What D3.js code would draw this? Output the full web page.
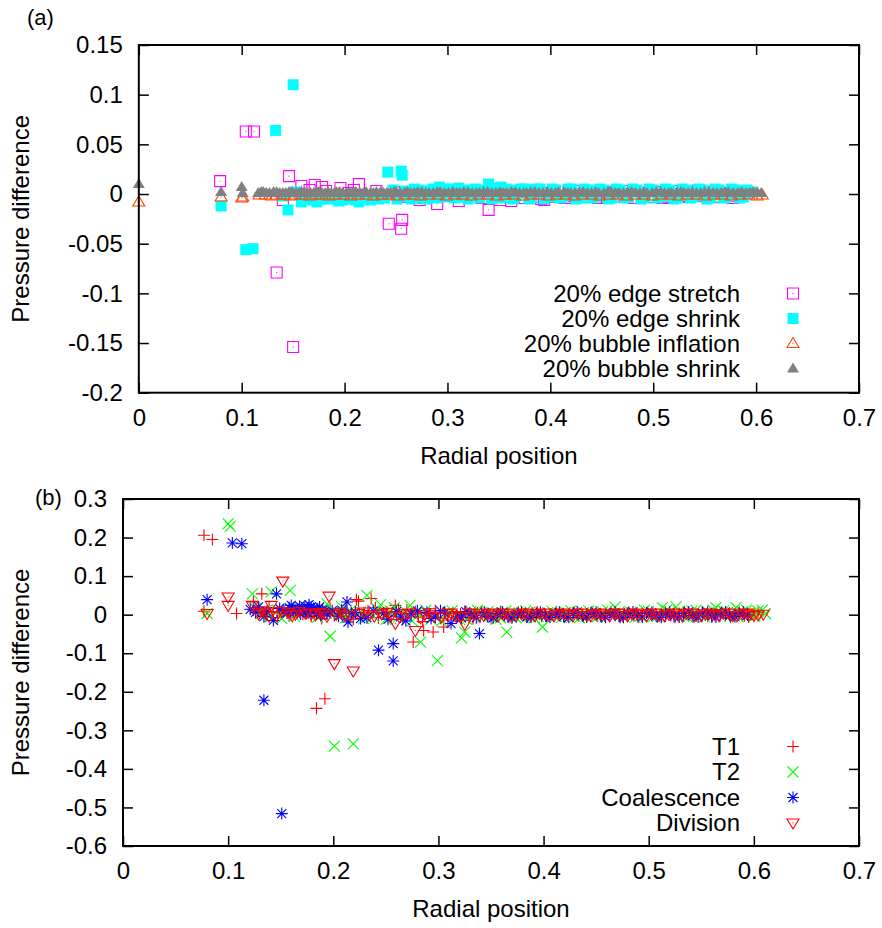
<!DOCTYPE html>
<html>
<head>
<meta charset="utf-8">
<script src="https://cdn.jsdelivr.net/npm/d3@7"></script>
<style>
  body { margin: 0; background: #fff; }
  text { font-family: "Liberation Sans", Arial, Helvetica, sans-serif; }
</style>
</head>
<body>
<svg id="chart" width="882" height="928"></svg>
<script>
// tick values
const xTicks = [0, 0.1, 0.2, 0.3, 0.4, 0.5, 0.6, 0.7];
const yTicksA = [-0.2, -0.15, -0.1, -0.05, 0, 0.05, 0.1, 0.15];
const yTicksB = [-0.6, -0.5, -0.4, -0.3, -0.2, -0.1, 0, 0.1, 0.2, 0.3];

// panel (a): [radial position, pressure difference]
const edgeStretch = [
  [0.079,0.013],[0.104,0.063],[0.112,0.063],[0.134,-0.079],[0.140,-0.006],[0.146,0.018],[0.150,-0.154],
  [0.158,0.008],[0.163,-0.003],[0.171,0.009],[0.178,0.007],[0.185,-0.002],[0.196,0.006],[0.204,0.001],
  [0.214,0.010],[0.222,-0.002],[0.231,0.003],[0.243,-0.030],[0.248,0.002],[0.255,-0.035],[0.256,-0.026],
  [0.262,-0.003],[0.269,0.003],[0.277,-0.004],[0.283,0.002],[0.290,-0.010],[0.297,-0.002],[0.305,0.003],
  [0.311,-0.007],[0.318,-0.002],[0.326,0.002],[0.333,-0.004],[0.340,-0.016],[0.347,0.001],[0.355,-0.003],
  [0.362,-0.007],[0.368,0.002],[0.375,-0.004],[0.383,-0.003],[0.391,-0.005],[0.398,0.001],[0.405,-0.003],
  [0.414,-0.004],[0.422,-0.002],[0.431,-0.003],[0.438,0.001],[0.446,-0.004],[0.455,-0.003],[0.463,0.002],
  [0.472,-0.003],[0.481,-0.004],[0.489,0.001],[0.497,-0.003],[0.505,0.002],[0.514,-0.003],[0.523,0.003],
  [0.531,-0.002],[0.540,0.002],[0.548,-0.002],[0.556,0.002],[0.565,-0.003],[0.573,0.001],[0.581,-0.002],[0.589,0.001],
  [0.166,0.004],[0.182,0.003],[0.191,-0.004],[0.209,0.004],[0.236,-0.003],[0.273,-0.006],[0.301,0.004],
  [0.336,0.003],[0.351,-0.006],[0.379,0.003],[0.394,-0.006],[0.427,0.003],[0.451,0.002],[0.476,0.003],
  [0.509,-0.004],[0.527,-0.003],[0.544,0.004],[0.561,0.003],[0.577,-0.004]
];
const edgeShrink = [
  [0.080,-0.012],[0.104,-0.056],[0.111,-0.055],[0.133,0.064],[0.145,-0.016],[0.150,0.110],[0.140,-0.002],
  [0.152,0.002],[0.158,-0.008],[0.165,-0.004],[0.173,-0.008],[0.180,-0.003],[0.188,-0.002],[0.194,-0.007],
  [0.201,-0.003],[0.208,-0.004],[0.214,-0.008],[0.221,-0.003],[0.229,-0.002],[0.236,-0.003],[0.242,0.022],
  [0.247,0.004],[0.255,0.023],[0.256,0.019],[0.262,-0.003],[0.268,0.005],[0.275,-0.004],[0.282,0.003],
  [0.292,0.007],[0.296,-0.003],[0.303,0.005],[0.311,0.006],[0.316,-0.003],[0.323,0.004],[0.331,-0.004],
  [0.340,0.010],[0.346,0.005],[0.352,0.007],[0.353,-0.004],[0.360,0.004],[0.367,-0.002],[0.375,0.005],
  [0.382,-0.004],[0.390,0.005],[0.398,-0.003],[0.405,0.004],[0.413,-0.003],[0.421,0.005],[0.429,-0.004],
  [0.437,0.004],[0.444,-0.003],[0.452,0.004],[0.460,-0.004],[0.468,0.004],[0.476,-0.003],[0.484,0.004],
  [0.492,-0.004],[0.500,0.004],[0.508,-0.003],[0.516,0.004],[0.524,-0.004],[0.532,0.004],[0.540,-0.003],
  [0.548,0.004],[0.556,-0.004],[0.564,0.004],[0.572,-0.003],[0.580,0.004],[0.588,-0.003],[0.595,0.002],
  [0.161,-0.005],[0.169,-0.006],[0.177,-0.005],[0.184,-0.005],[0.191,-0.004],[0.198,-0.006],[0.205,-0.005],
  [0.211,-0.006],[0.218,-0.004],[0.225,-0.006],[0.233,-0.005],[0.239,-0.004],[0.251,-0.005],[0.259,0.003],
  [0.265,-0.005],[0.272,0.004],[0.279,-0.005],[0.286,0.005],[0.289,-0.004],[0.299,0.005],[0.307,-0.004],
  [0.314,0.004],[0.320,-0.005],[0.327,0.005],[0.335,0.004],[0.343,-0.005],[0.349,0.006],[0.357,0.005],
  [0.364,-0.005],[0.371,0.005],[0.379,-0.005],[0.386,0.005],[0.394,-0.005],[0.402,0.005],[0.409,-0.004],
  [0.417,0.005],[0.425,-0.005],[0.433,0.005],[0.440,-0.004],[0.448,0.005],[0.456,-0.005],[0.464,0.005],
  [0.472,-0.004],[0.480,0.005],[0.488,-0.005],[0.496,0.005],[0.504,-0.004],[0.512,0.005],[0.520,-0.005],
  [0.528,0.005],[0.536,-0.004],[0.544,0.005],[0.552,-0.005],[0.560,0.005],[0.568,-0.004],[0.576,0.005],
  [0.584,-0.004],[0.591,0.004]
];
const bubbleInflation = [
  [0,-0.008],[0.080,-0.003],[0.100,-0.004],[0.101,-0.003],
  [0.117,-0.001],[0.123,-0.001],[0.129,-0.002],[0.134,-0.001],[0.141,-0.001],[0.147,-0.002],[0.152,-0.001],
  [0.159,-0.001],[0.166,-0.002],[0.172,-0.001],[0.178,-0.001],[0.185,-0.002],[0.191,-0.001],[0.199,-0.001],
  [0.206,-0.002],[0.213,-0.001],[0.221,-0.001],[0.228,-0.002],[0.236,-0.001],[0.243,-0.001],[0.251,-0.002],
  [0.259,-0.001],[0.267,-0.001],[0.274,-0.002],[0.282,-0.001],[0.291,-0.001],[0.299,-0.002],[0.307,-0.001],
  [0.315,-0.001],[0.323,-0.002],[0.331,-0.001],[0.339,-0.001],[0.348,-0.002],[0.356,-0.001],[0.364,-0.001],
  [0.373,-0.002],[0.381,-0.001],[0.389,-0.001],[0.398,-0.002],[0.406,-0.001],[0.415,-0.001],[0.423,-0.002],
  [0.431,-0.001],[0.440,-0.001],[0.448,-0.002],[0.457,-0.001],[0.465,-0.001],[0.474,-0.002],[0.482,-0.001],
  [0.491,-0.001],[0.499,-0.002],[0.508,-0.001],[0.516,-0.001],[0.525,-0.002],[0.533,-0.001],[0.542,-0.001],
  [0.550,-0.002],[0.559,-0.001],[0.567,-0.001],[0.576,-0.002],[0.584,-0.001],[0.593,-0.001],[0.601,-0.002],[0.606,-0.001]
];
const bubbleShrink = [
  [0,0.010],[0.080,0.002],[0.100,0.007],[0.101,0.001],
  [0.116,0.001],[0.121,0.002],[0.127,0.001],[0.131,0.002],[0.137,0.001],[0.143,0.001],[0.149,0.002],
  [0.153,0.001],[0.158,0.002],[0.164,0.001],[0.170,0.001],[0.175,0.002],[0.181,0.001],[0.187,0.001],
  [0.192,0.002],[0.198,0.001],[0.205,0.001],[0.211,0.002],[0.218,0.001],[0.225,0.001],[0.231,0.002],
  [0.238,0.001],[0.245,0.001],[0.250,0.002],[0.258,0.001],[0.264,0.001],[0.271,0.002],[0.279,0.001],
  [0.286,0.001],[0.293,0.002],[0.301,0.001],[0.309,0.001],[0.316,0.002],[0.324,0.001],[0.331,0.001],
  [0.339,0.002],[0.347,0.001],[0.354,0.001],[0.362,0.002],[0.370,0.001],[0.377,0.001],[0.385,0.002],
  [0.393,0.001],[0.401,0.001],[0.408,0.002],[0.417,0.001],[0.424,0.001],[0.432,0.002],[0.440,0.001],
  [0.447,0.001],[0.456,0.002],[0.463,0.001],[0.471,0.001],[0.479,0.002],[0.487,0.001],[0.494,0.001],
  [0.503,0.002],[0.511,0.001],[0.518,0.001],[0.527,0.002],[0.534,0.001],[0.542,0.001],[0.550,0.002],
  [0.558,0.001],[0.566,0.001],[0.573,0.002],[0.582,0.001],[0.590,0.001],[0.597,0.002],[0.605,0.001],
  [0.119,0.002],[0.124,0.001],[0.134,0.002],[0.140,0.001],[0.146,0.002],[0.156,0.001],[0.161,0.002],
  [0.167,0.001],[0.173,0.002],[0.178,0.001],[0.184,0.002],[0.190,0.001],[0.195,0.002],[0.202,0.001],
  [0.208,0.002],[0.215,0.001],[0.221,0.002],[0.228,0.001],[0.235,0.002],[0.241,0.001],[0.248,0.002],
  [0.254,0.001],[0.261,0.002],[0.268,0.001],[0.275,0.002],[0.282,0.001],[0.290,0.002],[0.297,0.001],
  [0.305,0.002],[0.312,0.001],[0.320,0.002],[0.328,0.001],[0.335,0.002],[0.343,0.001],[0.351,0.002],
  [0.358,0.001],[0.366,0.002],[0.374,0.001],[0.381,0.002],[0.389,0.001],[0.397,0.002],[0.405,0.001],
  [0.413,0.002],[0.420,0.001],[0.428,0.002],[0.436,0.001],[0.444,0.002],[0.452,0.001],[0.459,0.002],
  [0.467,0.001],[0.475,0.002],[0.483,0.001],[0.491,0.002],[0.499,0.001],[0.507,0.002],[0.515,0.001],
  [0.523,0.002],[0.530,0.001],[0.538,0.002],[0.546,0.001],[0.554,0.002],[0.562,0.001],[0.570,0.002],
  [0.578,0.001],[0.586,0.002],[0.594,0.001],[0.601,0.002]
];

// panel (b)
const t1 = [
  [0.077,0.206],[0.085,0.195],[0.077,0.009],[0.108,0.003],[0.124,0.033],[0.132,0.054],[0.184,-0.243],
  [0.192,-0.218],[0.222,0.039],[0.224,0.035],[0.236,0.042],[0.259,0.024],[0.276,-0.071],[0.286,-0.041],
  [0.295,-0.045],[0.305,-0.032],[0.314,0.004],
  [0.128,0.004],[0.136,-0.004],[0.143,0.008],[0.151,0.002],[0.158,-0.003],[0.166,0.006],[0.171,0.001],
  [0.179,-0.005],[0.186,0.004],[0.193,0.009],[0.201,-0.002],[0.208,0.003],[0.215,-0.006],[0.229,0.005],
  [0.243,-0.008],[0.251,0.006],[0.266,-0.012],[0.270,0.012],[0.281,-0.006],[0.291,0.003],[0.302,-0.009],
  [0.321,0.002],[0.329,-0.006],[0.337,0.004],[0.346,-0.003],[0.355,0.002],[0.363,-0.005],[0.372,0.003],
  [0.381,-0.002],[0.389,0.004],[0.398,-0.004],[0.407,0.002],[0.416,-0.003],[0.425,0.003],[0.433,-0.002],
  [0.442,0.002],[0.451,-0.004],[0.459,0.003],[0.468,-0.002],[0.477,0.002],[0.486,-0.003],[0.494,0.003],
  [0.503,-0.002],[0.512,0.002],[0.521,-0.003],[0.529,0.003],[0.538,-0.002],[0.547,0.002],[0.556,-0.003],
  [0.564,0.004],[0.573,-0.002],[0.582,0.002],[0.591,-0.003],[0.600,0.002],
  [0.124,0.012],[0.139,0.018],[0.147,-0.008],[0.161,0.014],[0.175,0.010],[0.189,-0.010],[0.197,0.016],
  [0.212,0.012],[0.219,-0.012],[0.233,0.010],[0.240,0.018],[0.255,-0.004],[0.262,0.014],[0.278,0.008],
  [0.285,-0.018],[0.297,0.010],[0.309,-0.014],[0.317,-0.008],[0.325,0.008],[0.333,-0.010],[0.341,0.006],
  [0.350,-0.008],[0.359,0.007],[0.367,-0.007],[0.376,0.006],[0.385,-0.006],[0.394,0.007],[0.403,-0.006],
  [0.412,0.006],[0.420,-0.007],[0.429,0.006],[0.438,-0.006],[0.446,0.007],[0.455,-0.006],[0.464,0.006],
  [0.473,-0.007],[0.481,0.006],[0.490,-0.006],[0.499,0.007],[0.508,-0.006],[0.516,0.006],[0.525,-0.007],
  [0.534,0.006],[0.543,-0.006],[0.551,0.007],[0.560,-0.006],[0.569,0.006],[0.578,-0.007],[0.586,0.006],
  [0.595,-0.006],[0.604,0.005]
];
const t2 = [
  [0.080,0.003],[0.100,0.236],[0.102,0.229],[0.123,0.054],[0.141,0.059],[0.159,0.063],[0.194,0.028],
  [0.197,-0.056],[0.201,-0.341],[0.219,-0.335],[0.232,0.050],[0.245,0.026],[0.273,0.024],[0.283,-0.071],
  [0.299,-0.119],[0.322,-0.060],[0.325,-0.045],[0.365,-0.045],[0.399,-0.032],[0.468,0.020],[0.513,0.018],
  [0.526,0.020],[0.564,0.018],[0.583,0.018],
  [0.131,0.002],[0.139,-0.006],[0.147,0.012],[0.155,0.003],[0.163,-0.004],[0.170,0.010],[0.178,0.002],
  [0.185,-0.007],[0.191,0.014],[0.205,0.004],[0.212,-0.008],[0.226,0.007],[0.238,-0.004],[0.254,0.010],
  [0.262,-0.006],[0.279,0.005],[0.293,-0.012],[0.309,0.006],[0.318,-0.004],[0.331,0.008],[0.342,-0.006],
  [0.351,0.005],[0.359,-0.008],[0.370,0.006],[0.378,-0.004],[0.387,0.007],[0.395,-0.005],[0.404,0.005],
  [0.412,-0.004],[0.421,0.006],[0.430,-0.005],[0.438,0.005],[0.447,-0.003],[0.456,0.007],[0.476,-0.004],
  [0.483,0.006],[0.492,-0.003],[0.500,0.008],[0.508,-0.004],[0.520,0.006],[0.533,-0.003],[0.541,0.009],
  [0.549,-0.002],[0.557,0.006],[0.571,0.010],[0.577,-0.003],[0.589,0.008],[0.596,0.004],[0.604,0.010],[0.611,0.003],
  [0.126,0.016],[0.135,0.010],[0.151,-0.010],[0.167,0.018],[0.181,0.012],[0.199,0.006],[0.208,0.020],
  [0.216,0.010],[0.229,-0.010],[0.242,0.014],[0.250,-0.012],[0.258,0.018],[0.268,0.010],[0.275,-0.016],
  [0.288,0.012],[0.303,-0.016],[0.313,0.010],[0.327,-0.012],[0.337,0.012],[0.347,0.008],[0.355,-0.012],
  [0.364,0.010],[0.374,-0.008],[0.383,0.010],[0.391,-0.008],[0.408,0.009],[0.417,-0.007],[0.426,0.010],
  [0.434,-0.008],[0.443,0.010],[0.451,-0.006],[0.461,0.012],[0.472,0.008],[0.487,-0.007],[0.496,0.012],
  [0.504,-0.006],[0.517,0.012],[0.529,0.010],[0.537,-0.007],[0.545,0.012],[0.553,-0.006],[0.561,0.012],
  [0.575,0.006],[0.585,-0.006],[0.593,0.012],[0.601,-0.004],[0.608,0.012]
];
const coalescence = [
  [0.080,0.039],[0.104,0.186],[0.113,0.184],[0.134,-0.222],[0.143,-0.015],[0.146,0.054],[0.151,-0.516],
  [0.173,0.022],[0.213,0.033],[0.214,-0.019],[0.243,-0.092],[0.257,-0.120],[0.257,-0.075],[0.312,-0.023],
  [0.339,-0.049],
  [0.126,0.006],[0.134,-0.005],[0.153,0.010],[0.158,0.018],[0.162,0.006],[0.166,0.015],[0.169,0.002],
  [0.172,0.012],[0.176,0.004],[0.179,0.020],[0.182,0.008],[0.185,0.014],[0.188,-0.002],[0.191,0.006],
  [0.199,0.010],[0.205,-0.004],[0.221,0.006],[0.232,-0.008],[0.248,0.004],[0.264,-0.006],[0.274,0.002],
  [0.289,0.006],[0.297,-0.006],[0.306,0.004],[0.322,-0.008],[0.331,0.002],[0.347,-0.005],[0.356,0.003],
  [0.366,-0.004],[0.375,0.002],[0.384,-0.006],[0.393,0.003],[0.402,-0.003],[0.411,0.002],[0.419,-0.005],
  [0.428,0.003],[0.437,-0.002],[0.445,0.004],[0.454,-0.003],[0.463,0.002],[0.472,-0.004],[0.480,0.003],
  [0.489,-0.002],[0.498,0.004],[0.507,-0.003],[0.516,0.002],[0.524,-0.004],[0.533,0.003],[0.542,-0.002],
  [0.551,0.004],[0.560,-0.003],[0.568,0.002],[0.577,-0.002],[0.586,0.003],[0.594,-0.001],
  [0.121,0.014],[0.129,0.020],[0.137,0.008],[0.149,0.016],[0.156,0.004],[0.160,0.024],[0.164,0.010],
  [0.168,0.022],[0.171,0.016],[0.174,0.008],[0.177,0.026],[0.181,0.016],[0.184,0.004],[0.187,0.020],
  [0.190,0.012],[0.194,0.002],[0.208,0.012],[0.217,0.004],[0.226,-0.010],[0.238,0.010],[0.252,-0.012],
  [0.260,0.008],[0.269,-0.016],[0.280,0.010],[0.293,-0.010],[0.302,0.010],[0.318,-0.004],[0.326,0.008],
  [0.336,-0.008],[0.344,0.006],[0.352,-0.008],[0.361,0.006],[0.370,-0.008],[0.379,0.006],[0.388,-0.007],
  [0.397,0.006],[0.406,-0.007],[0.415,0.006],[0.424,-0.007],[0.432,0.007],[0.441,-0.006],[0.450,0.006],
  [0.459,-0.007],[0.468,0.006],[0.476,-0.007],[0.485,0.007],[0.494,-0.006],[0.503,0.006],[0.512,-0.007],
  [0.520,0.006],[0.529,-0.006],[0.538,0.007],[0.547,-0.006],[0.556,0.006],[0.564,-0.006],[0.573,0.007],
  [0.582,-0.005],[0.590,0.006]
];
const division = [
  [0.080,0.003],[0.100,0.046],[0.100,0.024],[0.123,0.024],[0.141,0.024],[0.152,0.087],[0.196,0.048],
  [0.201,-0.127],[0.219,-0.146],[0.259,-0.023],[0.278,-0.041],[0.325,-0.025],
  [0.129,0.002],[0.135,0.005],[0.146,-0.002],[0.157,0.006],[0.164,0.001],[0.174,0.004],[0.183,-0.001],
  [0.190,0.003],[0.203,0.001],[0.211,-0.002],[0.224,0.003],[0.234,0.000],[0.246,0.002],[0.255,-0.003],
  [0.268,0.002],[0.287,0.001],[0.296,-0.004],[0.308,0.003],[0.316,-0.002],[0.334,0.002],[0.343,-0.002],
  [0.352,0.001],[0.361,0.003],[0.369,-0.002],[0.379,0.002],[0.388,-0.001],[0.396,0.003],[0.405,-0.002],
  [0.414,0.002],[0.423,0.000],[0.432,0.003],[0.441,-0.002],[0.449,0.002],[0.458,-0.001],[0.467,0.003],
  [0.475,-0.002],[0.484,0.002],[0.493,0.000],[0.502,0.003],[0.510,-0.002],[0.519,0.002],[0.528,-0.001],
  [0.536,0.003],[0.545,-0.002],[0.554,0.002],[0.563,0.000],[0.571,0.003],[0.580,-0.002],[0.589,0.002],
  [0.596,0.001],[0.604,-0.001],[0.609,0.001],
  [0.132,0.010],[0.139,-0.004],[0.151,0.008],[0.161,-0.003],[0.168,0.008],[0.179,0.002],[0.187,0.006],
  [0.194,-0.004],[0.207,0.006],[0.216,-0.003],[0.229,0.007],[0.239,-0.004],[0.251,0.006],[0.263,-0.006],
  [0.273,0.004],[0.283,-0.008],[0.292,0.005],[0.303,-0.006],[0.312,0.004],[0.321,-0.005],[0.330,0.004],
  [0.339,-0.003],[0.348,0.004],[0.357,-0.003],[0.365,0.004],[0.374,-0.003],[0.383,0.004],[0.392,-0.003],
  [0.401,0.004],[0.410,-0.003],[0.419,0.004],[0.428,-0.003],[0.436,0.004],[0.445,-0.003],[0.454,0.004],
  [0.463,-0.003],[0.471,0.004],[0.480,-0.003],[0.489,0.004],[0.498,-0.003],[0.506,0.004],[0.515,-0.003],
  [0.524,0.004],[0.532,-0.003],[0.541,0.004],[0.550,-0.003],[0.558,0.004],[0.567,-0.003],[0.576,0.004],
  [0.584,-0.003],[0.593,0.004],[0.600,-0.002]
];

const svg = d3.select("#chart");

// marker shapes, drawn around (0,0)
function markerPath(shape) {
  switch (shape) {
    case "box": return "M-5.5,-5.5H5.5V5.5H-5.5Z";
    case "tri": return "M0,-6L6,4L-6,4Z";
    case "triDown": return "M0,6L6,-4L-6,-4Z";
    case "plus": return "M-6,0H6M0,-6V6";
    case "cross": return "M-5.5,-5.5L5.5,5.5M-5.5,5.5L5.5,-5.5";
    case "star": return "M-6,0H6M0,-6V6M-4.5,-4.5L4.5,4.5M-4.5,4.5L4.5,-4.5";
  }
}

function drawMarker(g, s) {
  var p = g.append("path").attr("d", markerPath(s.shape));
  if (s.filled) {
    p.attr("fill", s.color).attr("stroke", "none");
  } else {
    p.attr("fill", "none").attr("stroke", s.color).attr("stroke-width", 1.1);
  }
  if (s.dot) {
    g.append("rect").attr("x", -0.5).attr("y", -0.5).attr("width", 1).attr("height", 1).attr("fill", s.color);
  }
}

function panel(cfg) {
  var x = d3.scaleLinear().domain([0, 0.7]).range([cfg.left, cfg.right]);
  var y = d3.scaleLinear().domain(cfg.yDomain).range([cfg.bottom, cfg.top]);

  var g = svg.append("g");

  // points, in gnuplot plotting order
  cfg.series.forEach(function(s) {
    g.append("g").selectAll("g")
      .data(s.data)
      .join("g")
      .attr("transform", d => `translate(${x(d[0])},${y(d[1])})`)
      .each(function() { drawMarker(d3.select(this), s); });
  });

  var fmt = d => String(d);

  var axL = g.append("g").attr("transform", `translate(${cfg.left},0)`)
    .call(d3.axisLeft(y).tickValues(cfg.yTicks).tickSize(-10).tickPadding(16).tickFormat(fmt));
  var axR = g.append("g").attr("transform", `translate(${cfg.right},0)`)
    .call(d3.axisRight(y).tickValues(cfg.yTicks).tickSize(-10).tickFormat(""));
  var axB = g.append("g").attr("transform", `translate(0,${cfg.bottom})`)
    .call(d3.axisBottom(x).tickValues(xTicks).tickSize(-10).tickPadding(16).tickFormat(fmt));
  var axT = g.append("g").attr("transform", `translate(0,${cfg.top})`)
    .call(d3.axisTop(x).tickValues(xTicks).tickSize(-10).tickFormat(""));

  [axL, axR, axB, axT].forEach(function(a) {
    a.select(".domain").remove();
    a.selectAll(".tick line").attr("stroke", "#000").attr("stroke-width", 1.5);
    a.selectAll(".tick text").attr("fill", "#000").style("font-size", "24px")
      .style("font-family", '"Liberation Sans", Arial, sans-serif');
  });

  g.append("rect")
    .attr("x", cfg.left).attr("y", cfg.top)
    .attr("width", cfg.right - cfg.left).attr("height", cfg.bottom - cfg.top)
    .attr("fill", "none").attr("stroke", "#000").attr("stroke-width", 2);

  g.append("text")
    .attr("x", (cfg.left + cfg.right) / 2).attr("y", cfg.bottom + 63)
    .attr("text-anchor", "middle").attr("dy", "0.35em")
    .style("font-size", "24px")
    .text("Radial position");

  g.append("text")
    .attr("transform", `translate(21,${(cfg.top + cfg.bottom) / 2}) rotate(-90)`)
    .attr("text-anchor", "middle").attr("dy", "0.35em")
    .style("font-size", "24px")
    .text("Pressure difference");

  g.append("text")
    .attr("x", cfg.tag[0]).attr("y", cfg.tag[1]).attr("dy", "0.35em")
    .style("font-size", "22px")
    .text(cfg.tagText);

  // key
  cfg.series.forEach(function(s, i) {
    var yy = cfg.keyTop + i * cfg.keyStep;
    g.append("text")
      .attr("x", 740).attr("y", yy).attr("dy", "0.35em")
      .attr("text-anchor", "end")
      .style("font-size", "24px")
      .text(s.name);
    drawMarker(g.append("g").attr("transform", `translate(793,${yy})`), s);
  });
}

panel({
  left: 138.8, right: 859, top: 45, bottom: 392.7,
  yDomain: [-0.2, 0.15], yTicks: yTicksA,
  tag: [27, 17], tagText: "(a)",
  keyTop: 293.5, keyStep: 25,
  series: [
    { name: "20% edge stretch", data: edgeStretch, shape: "box", color: "#ff00ff", filled: false, dot: true },
    { name: "20% edge shrink", data: edgeShrink, shape: "box", color: "#00ffff", filled: true },
    { name: "20% bubble inflation", data: bubbleInflation, shape: "tri", color: "#ff4500", filled: false, dot: true },
    { name: "20% bubble shrink", data: bubbleShrink, shape: "tri", color: "#808080", filled: true }
  ]
});

panel({
  left: 123, right: 859, top: 499, bottom: 846,
  yDomain: [-0.6, 0.3], yTicks: yTicksB,
  tag: [35, 497], tagText: "(b)",
  keyTop: 746.5, keyStep: 25.5,
  series: [
    { name: "T1", data: t1, shape: "plus", color: "#ff0000", filled: false },
    { name: "T2", data: t2, shape: "cross", color: "#00ff00", filled: false },
    { name: "Coalescence", data: coalescence, shape: "star", color: "#0000ff", filled: false },
    { name: "Division", data: division, shape: "triDown", color: "#ff0000", filled: false, dot: true }
  ]
});
</script>
</body>
</html>
